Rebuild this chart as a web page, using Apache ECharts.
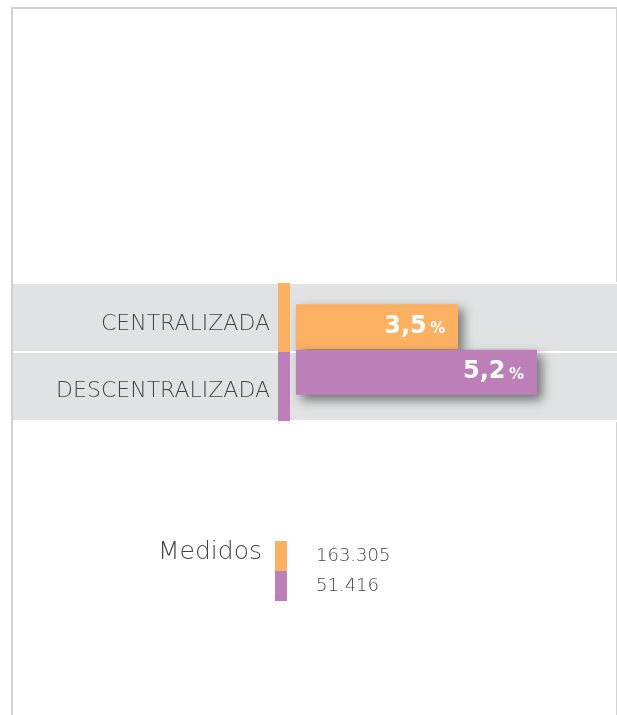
<!DOCTYPE html>
<html>
<head>
<meta charset="utf-8">
<script src="https://cdn.jsdelivr.net/npm/echarts@6/dist/echarts.min.js"></script>
<style>
    html, body { margin: 0; padding: 0; background: #fff; }
    #frame {
        position: absolute; left: 11px; top: 7px; width: 603px; height: 720px;
        border: 2px solid #d2d2d2; border-bottom: none;
    }
    #chartDom { position: absolute; left: 0; top: 0; width: 617px; height: 715px; }
</style>
</head>
<body>
<div id="frame"></div>
<div id="chartDom"></div>
<script>
// datos
var categorias = ['CENTRALIZADA', 'DESCENTRALIZADA'];
var porcentajes = [3.5, 5.2];
var medidos = [163305, 51416];
var colores = ['#fbb062', '#bc7fb8'];
var lleno = [1, 1]; // marcas de color que llenan su banda

var textoGris = '#444444';
var fuente = 'DejaVu Sans';

function colorPorIndice(p) {
    return colores[p.dataIndex];
}

function miles(v) {
    return String(v).replace(/\B(?=(\d{3})+(?!\d))/g, '.');
}

var estiloCat = { color: textoGris, fontFamily: fuente, fontSize: 22, fontWeight: 200 };

var chart = echarts.init(document.getElementById('chartDom'));
chart.setOption({
    animation: false,
    title: {
        text: 'Medidos',
        left: 158,
        top: 540,
        padding: 0,
        textStyle: { fontFamily: fuente, fontSize: 25, fontWeight: 200, color: textoGris }
    },
    grid: [
        { left: 13, right: 0, top: 283, height: 138 },
        { left: 278, width: 12, top: 283, height: 138 },
        { left: 296, width: 278, top: 304, height: 91 },
        { left: 275, width: 12, top: 541, height: 60 }
    ],
    xAxis: [
        { gridIndex: 0, type: 'value', min: 0, max: 1, show: false },
        { gridIndex: 1, type: 'value', min: 0, max: 1, show: false },
        { gridIndex: 2, type: 'value', min: 0, max: 6, show: false },
        { gridIndex: 3, type: 'value', min: 0, max: 1, show: false }
    ],
    yAxis: [
        {
            gridIndex: 0, type: 'category', inverse: true, data: categorias,
            axisLine: { show: false }, axisTick: { show: false },
            axisLabel: {
                margin: -257,
                formatter: function (v, i) { return '{c' + i + '|' + v + '}'; },
                rich: {
                    c0: Object.assign({ padding: [14, 0, 0, 0] }, estiloCat),
                    c1: Object.assign({ padding: [10, 0, 0, 0] }, estiloCat)
                }
            },
            splitArea: { show: true, areaStyle: { color: ['#e1e2e4'] } },
            splitLine: { show: true, lineStyle: { color: '#ffffff', width: 2 } }
        },
        { gridIndex: 1, type: 'category', inverse: true, data: categorias, show: false },
        { gridIndex: 2, type: 'category', inverse: true, data: categorias, show: false },
        {
            gridIndex: 3, type: 'category', inverse: true, position: 'right',
            data: medidos.map(miles),
            axisLine: { show: false }, axisTick: { show: false },
            axisLabel: { margin: 29, color: textoGris, fontFamily: fuente, fontSize: 18, fontWeight: 200 }
        }
    ],
    series: [
        {
            type: 'bar', xAxisIndex: 1, yAxisIndex: 1, data: lleno,
            barCategoryGap: 0, itemStyle: { color: colorPorIndice }
        },
        {
            type: 'bar', xAxisIndex: 2, yAxisIndex: 2, data: porcentajes,
            barWidth: 45,
            itemStyle: {
                color: colorPorIndice,
                shadowColor: 'rgba(0,0,0,0.5)', shadowBlur: 10,
                shadowOffsetX: 5, shadowOffsetY: 5
            },
            label: {
                show: true,
                position: 'insideRight',
                distance: 13,
                formatter: function (p) {
                    return '{a|' + String(p.value).replace('.', ',') + '} {b|%}';
                },
                rich: {
                    a: { fontFamily: fuente, fontSize: 24, fontWeight: 'bold', color: '#fff', verticalAlign: 'bottom' },
                    b: { fontFamily: fuente, fontSize: 15, fontWeight: 'bold', color: '#fff', verticalAlign: 'bottom', padding: [0, 0, 2, 0] }
                }
            }
        },
        {
            type: 'bar', xAxisIndex: 3, yAxisIndex: 3, data: lleno,
            barCategoryGap: 0, itemStyle: { color: colorPorIndice }
        }
    ]
});
</script>
</body>
</html>
